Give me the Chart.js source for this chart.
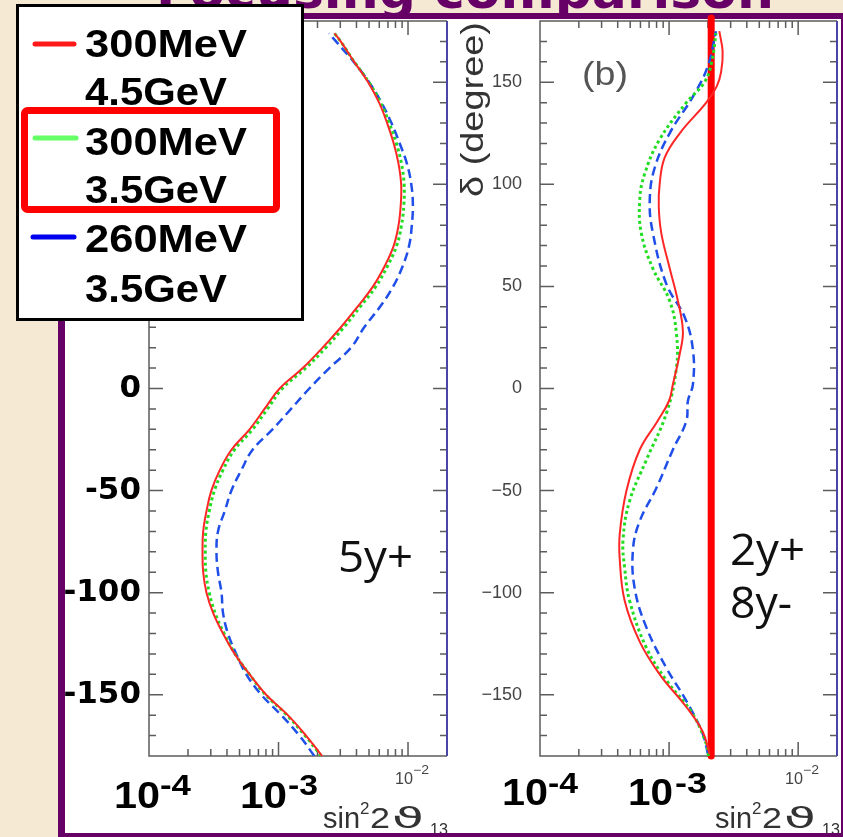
<!DOCTYPE html>
<html>
<head>
<meta charset="utf-8">
<title>Focusing comparison</title>
<script src="https://cdn.jsdelivr.net/npm/chart.js@4.4.1/dist/chart.umd.min.js"></script>
<style>
  html, body { margin: 0; padding: 0; }
  body { width: 843px; height: 837px; overflow: hidden; position: relative; background: #f5e9d4; }
  .layer { position: absolute; left: 0; top: 0; }
  .plot { position: absolute; }
</style>
</head>
<body>

<!-- slide background: title strip, white panel, top and left frame -->
<svg class="layer" width="843" height="837">
  <text x="156" y="8" font-family="DejaVu Sans" font-weight="bold" font-size="52" fill="#660066"
        textLength="618" lengthAdjust="spacingAndGlyphs">Focusing comparison</text>
  <rect x="58" y="13" width="785" height="824" fill="#ffffff"/>
  <g fill="#660066">
    <rect x="58" y="13" width="785" height="6"/>
    <rect x="58" y="13" width="7" height="824"/>
  </g>
</svg>

<div class="plot" style="left:40px;top:11px;width:417px;height:755px"><canvas id="chartA"></canvas></div>
<div class="plot" style="left:440px;top:5px;width:403px;height:761px"><canvas id="chartB"></canvas></div>

<!-- slide overlays: axis texts, frame, annotations, legend -->
<svg class="layer" width="843" height="837" font-family="Liberation Sans, Arial, sans-serif">
  <g fill="#444">
    <text x="395" y="784" font-size="16" textLength="18" lengthAdjust="spacingAndGlyphs">10</text>
    <text x="413" y="774" font-size="12" textLength="16" lengthAdjust="spacingAndGlyphs">&#8722;2</text>
    <text x="785" y="784" font-size="16" textLength="18" lengthAdjust="spacingAndGlyphs">10</text>
    <text x="803" y="774" font-size="12" textLength="16" lengthAdjust="spacingAndGlyphs">&#8722;2</text>
  </g>
  <g fill="#333">
    <text x="323" y="828" font-size="30" textLength="37" lengthAdjust="spacingAndGlyphs">sin</text>
    <text x="360" y="814" font-size="17">2</text>
    <text x="370" y="828" font-size="30" textLength="20" lengthAdjust="spacingAndGlyphs">2</text>
    <text x="392" y="828" font-family="DejaVu Sans" font-size="28" textLength="32" lengthAdjust="spacingAndGlyphs">&#977;</text>
    <text x="430" y="835" font-size="17" textLength="18" lengthAdjust="spacingAndGlyphs">13</text>
    <text x="715" y="828" font-size="30" textLength="37" lengthAdjust="spacingAndGlyphs">sin</text>
    <text x="752" y="814" font-size="17">2</text>
    <text x="762" y="828" font-size="30" textLength="20" lengthAdjust="spacingAndGlyphs">2</text>
    <text x="784" y="828" font-family="DejaVu Sans" font-size="28" textLength="32" lengthAdjust="spacingAndGlyphs">&#977;</text>
    <text x="822" y="835" font-size="17" textLength="18" lengthAdjust="spacingAndGlyphs">13</text>
    <text transform="translate(483,197) rotate(-90)" font-size="31" textLength="175"
          lengthAdjust="spacingAndGlyphs">&#948; (degree)</text>
  </g>
  <text x="582" y="85" font-size="34" fill="#555" textLength="46" lengthAdjust="spacingAndGlyphs">(b)</text>

  <g fill="#660066">
    <rect x="58" y="833" width="785" height="4"/>
    <rect x="841" y="13" width="2" height="824"/>
  </g>

  <g font-family="Open Sans, sans-serif" font-size="43" fill="#111">
    <text x="338" y="572" textLength="75" lengthAdjust="spacingAndGlyphs">5y+</text>
    <text x="730" y="565" textLength="75" lengthAdjust="spacingAndGlyphs">2y+</text>
    <text x="730" y="618" textLength="62" lengthAdjust="spacingAndGlyphs">8y-</text>
  </g>

  <g font-weight="bold" fill="#000">
    <text x="114" y="808" font-size="37" textLength="46" lengthAdjust="spacingAndGlyphs">10</text>
    <text x="160" y="795" font-size="30" textLength="31" lengthAdjust="spacingAndGlyphs">-4</text>
    <text x="240" y="808" font-size="37" textLength="47" lengthAdjust="spacingAndGlyphs">10</text>
    <text x="288" y="795" font-size="30" textLength="30" lengthAdjust="spacingAndGlyphs">-3</text>
    <text x="502" y="805" font-size="37" textLength="46" lengthAdjust="spacingAndGlyphs">10</text>
    <text x="548" y="793" font-size="30" textLength="30" lengthAdjust="spacingAndGlyphs">-4</text>
    <text x="628" y="805" font-size="37" textLength="45" lengthAdjust="spacingAndGlyphs">10</text>
    <text x="675" y="793" font-size="30" textLength="32" lengthAdjust="spacingAndGlyphs">-3</text>
  </g>

  <!-- legend -->
  <rect x="17.5" y="5.5" width="285" height="314" fill="#fff" stroke="#000" stroke-width="3"/>
  <g stroke-width="5" stroke-linecap="round">
    <line x1="35" y1="44" x2="74" y2="44" stroke="#ff1a1a"/>
    <line x1="35" y1="138" x2="76" y2="138" stroke="#66ff66"/>
    <line x1="33" y1="237" x2="74" y2="237" stroke="#0000ee"/>
  </g>
  <rect x="24.5" y="110.5" width="252" height="99" rx="3" fill="none" stroke="#ff0000" stroke-width="7"/>
  <g font-weight="bold" font-size="38" fill="#000">
    <text x="85" y="57" textLength="162" lengthAdjust="spacingAndGlyphs">300MeV</text>
    <text x="85" y="105" textLength="142" lengthAdjust="spacingAndGlyphs">4.5GeV</text>
    <text x="85" y="155" textLength="162" lengthAdjust="spacingAndGlyphs">300MeV</text>
    <text x="85" y="203" textLength="142" lengthAdjust="spacingAndGlyphs">3.5GeV</text>
    <text x="85" y="252" textLength="162" lengthAdjust="spacingAndGlyphs">260MeV</text>
    <text x="85" y="302" textLength="142" lengthAdjust="spacingAndGlyphs">3.5GeV</text>
  </g>
</svg>

<script>
// axis ranges: sin^2(2 theta13) on a log axis, delta in degrees
const sinMin = 1e-4;
const sinMax = 2e-2;
const deltaMin = -180;
const deltaMax = 180;
const deltaTicks = [-150, -100, -50, 0, 50, 100, 150];

// panel (a) 5y+ : one delta grid for the three curves
const deltaA = [-180, -170, -160, -150, -140, -130, -120, -110, -100, -90, -80, -70, -60, -50, -40, -30, -20, -10,
  0, 10, 20, 30, 40, 50, 60, 70, 80, 90, 100, 110, 120, 130, 140, 150, 160, 170, 174];
const sinA_300_45 = [2.17e-3, 1.63e-3, 1.18e-3, 8.03e-4, 5.98e-4, 4.59e-4, 3.73e-4, 3.13e-4, 2.78e-4, 2.62e-4,
  2.59e-4, 2.62e-4, 2.78e-4, 3.03e-4, 3.52e-4, 4.33e-4, 5.98e-4, 7.80e-4, 1.02e-3, 1.54e-3, 2.19e-3, 3.03e-3,
  4.07e-3, 5.37e-3, 6.61e-3, 7.76e-3, 8.45e-3, 8.79e-3, 8.85e-3, 8.45e-3, 7.76e-3, 6.90e-3, 5.98e-3, 4.92e-3,
  3.84e-3, 3.02e-3, 2.70e-3];
const sinA_300_35 = [2.14e-3, 1.60e-3, 1.16e-3, 7.94e-4, 5.96e-4, 4.62e-4, 3.80e-4, 3.24e-4, 2.92e-4, 2.75e-4,
  2.72e-4, 2.75e-4, 2.92e-4, 3.20e-4, 3.72e-4, 4.57e-4, 6.31e-4, 8.22e-4, 1.07e-3, 1.62e-3, 2.32e-3, 3.20e-3,
  4.27e-3, 5.65e-3, 6.95e-3, 8.17e-3, 8.91e-3, 9.29e-3, 9.33e-3, 8.91e-3, 8.13e-3, 7.16e-3, 6.14e-3, 4.99e-3,
  3.85e-3, 3.02e-3, 2.70e-3];
const sinA_260_35 = [1.89e-3, 1.45e-3, 1.05e-3, 7.36e-4, 5.64e-4, 4.72e-4, 4.07e-4, 3.73e-4, 3.63e-4, 3.41e-4,
  3.32e-4, 3.41e-4, 3.85e-4, 4.33e-4, 5.16e-4, 6.31e-4, 8.99e-4, 1.25e-3, 1.73e-3, 2.47e-3, 3.63e-3, 4.59e-3,
  6.08e-3, 7.69e-3, 9.10e-3, 1.02e-2, 1.07e-2, 1.09e-2, 1.06e-2, 9.82e-3, 8.63e-3, 7.45e-3, 6.24e-3, 5.01e-3,
  3.80e-3, 2.78e-3, 2.45e-3];

// panel (b) 2y+ 8y- : each curve read on its own delta points
const deltaB_300_45 = [-179, -168, -156, -140, -124, -104, -84, -71, -50, -30, -16, -6, 2, 17, 28, 43, 59, 76,
  89, 100, 113, 125, 140, 148, 155, 165, 175];
const sinB_300_45 = [2.06e-3, 1.82e-3, 1.36e-3, 8.45e-4, 5.92e-4, 4.53e-4, 4.15e-4, 4.15e-4, 4.68e-4, 5.92e-4,
  8.13e-4, 1.00e-3, 1.07e-3, 1.21e-3, 1.28e-3, 1.17e-3, 1.01e-3, 8.71e-4, 8.32e-4, 8.45e-4, 9.23e-4, 1.21e-3,
  1.94e-3, 2.34e-3, 2.53e-3, 2.60e-3, 2.45e-3];
const deltaB_300_35 = [-180, -174, -159, -143, -127, -104, -88, -74, -55, -35, -12, 10, 27, 43, 59, 76, 92, 105,
  122, 140, 150, 160, 174];
const sinB_300_35 = [2.02e-3, 1.94e-3, 1.51e-3, 9.55e-4, 6.67e-4, 4.95e-4, 4.53e-4, 4.40e-4, 4.95e-4, 6.67e-4,
  9.55e-4, 1.14e-3, 1.14e-3, 1.01e-3, 7.46e-4, 6.10e-4, 5.92e-4, 6.46e-4, 8.45e-4, 1.36e-3, 1.88e-3, 2.14e-3,
  2.31e-3];
const deltaB_260_35 = [-179, -169, -153, -137, -117, -98, -79, -65, -49, -30, -16, -6, 2, 19, 35, 51, 76, 92,
  108, 125, 143, 158, 175];
const sinB_260_35 = [2.00e-3, 1.82e-3, 1.36e-3, 9.55e-4, 6.67e-4, 5.42e-4, 5.25e-4, 5.92e-4, 7.94e-4, 1.07e-3,
  1.36e-3, 1.40e-3, 1.53e-3, 1.53e-3, 1.32e-3, 9.55e-4, 7.50e-4, 7.08e-4, 7.73e-4, 1.01e-3, 1.53e-3, 2.00e-3,
  2.31e-3];

// red marker drawn over panel (b)
const markerSin = 2.12e-3;
const markerDelta = [-180, 181.5];

// ROOT style frame with inward ticks on all four sides
const rootFrame = {
  id: 'rootFrame',
  beforeDatasetsDraw(chart) {
    const { ctx, chartArea: a } = chart;
    const xs = chart.scales.x;
    const ys = chart.scales.y;
    ctx.save();
    ctx.strokeStyle = '#5c5c5c';
    ctx.lineWidth = 1.5;
    ctx.beginPath();
    for (let v = deltaMin + 10; v < deltaMax; v += 10) {
      const py = ys.getPixelForValue(v);
      const len = v % 50 === 0 ? 14 : 7;
      ctx.moveTo(a.left, py); ctx.lineTo(a.left + len, py);
      ctx.moveTo(a.right, py); ctx.lineTo(a.right - len, py);
    }
    for (let d = -4; d <= -2; d++) {
      for (let k = 1; k <= 9; k++) {
        const v = k * Math.pow(10, d);
        if (v <= sinMin * 1.0001 || v >= sinMax * 0.9999) continue;
        const px = xs.getPixelForValue(v);
        const len = k === 1 ? 14 : 7;
        ctx.moveTo(px, a.bottom); ctx.lineTo(px, a.bottom - len);
        ctx.moveTo(px, a.top); ctx.lineTo(px, a.top + len);
      }
    }
    ctx.stroke();
    ctx.beginPath();
    ctx.moveTo(a.right, a.top);
    ctx.lineTo(a.left, a.top);
    ctx.lineTo(a.left, a.bottom);
    ctx.lineTo(a.right, a.bottom);
    ctx.stroke();
    ctx.strokeStyle = '#4a46a6';
    ctx.lineWidth = 2;
    ctx.beginPath();
    ctx.moveTo(a.right, a.top);
    ctx.lineTo(a.right, a.bottom);
    ctx.stroke();
    ctx.restore();
  }
};

function curve(label, deltas, values, color, width, dash) {
  return {
    label: label,
    data: deltas.map((d, i) => ({ x: values[i], y: d })),
    showLine: true,
    borderColor: color,
    backgroundColor: color,
    borderWidth: width,
    borderDash: dash,
    pointRadius: 0,
    tension: 0.4
  };
}

function panelOptions(yWidth, padding, tickFont, tickColor, tickPadding, format) {
  return {
    responsive: true,
    maintainAspectRatio: false,
    devicePixelRatio: 1,
    animation: false,
    layout: { padding: padding },
    plugins: { legend: { display: false }, tooltip: { enabled: false } },
    scales: {
      x: { type: 'logarithmic', min: sinMin, max: sinMax, display: false },
      y: {
        type: 'linear',
        min: deltaMin,
        max: deltaMax,
        position: 'left',
        grid: { display: false, drawTicks: false },
        border: { display: false },
        afterBuildTicks: (s) => { s.ticks = deltaTicks.map(v => ({ value: v })); },
        afterFit: (s) => { s.width = yWidth; s.paddingTop = 0; s.paddingBottom = 0; },
        ticks: { autoSkip: false, font: tickFont, color: tickColor, padding: tickPadding, callback: format }
      }
    }
  };
}

const red = '#ff2626';
const green = '#22dd22';
const blue = '#1f4fe8';

new Chart(document.getElementById('chartA'), {
  type: 'scatter',
  data: {
    datasets: [
      curve('300MeV 4.5GeV', deltaA, sinA_300_45, red, 2, []),
      curve('300MeV 3.5GeV', deltaA, sinA_300_35, green, 3, [3, 3]),
      curve('260MeV 3.5GeV', deltaA, sinA_260_35, blue, 2.5, [9, 5])
    ]
  },
  options: panelOptions(109, { left: 0, top: 10, right: 10, bottom: 10 },
    { family: 'DejaVu Sans', weight: 'bold', size: 31 }, '#000', 8, v => String(v)),
  plugins: [rootFrame]
});

const markerSet = {
  label: 'marker',
  data: markerDelta.map(d => ({ x: markerSin, y: d })),
  showLine: true,
  borderColor: '#ff0000',
  borderWidth: 7,
  borderCapStyle: 'round',
  pointRadius: 0,
  clip: false
};

new Chart(document.getElementById('chartB'), {
  type: 'scatter',
  data: {
    datasets: [
      curve('300MeV 4.5GeV', deltaB_300_45, sinB_300_45, red, 2, []),
      curve('300MeV 3.5GeV', deltaB_300_35, sinB_300_35, green, 3, [3, 3]),
      curve('260MeV 3.5GeV', deltaB_260_35, sinB_260_35, blue, 2.5, [9, 5]),
      markerSet
    ]
  },
  options: panelOptions(100, { left: 0, top: 16, right: 6, bottom: 10 },
    { family: 'Liberation Sans', size: 18 }, '#444', 18, v => String(v).replace('-', '\u2212')),
  plugins: [rootFrame]
});
</script>
</body>
</html>
